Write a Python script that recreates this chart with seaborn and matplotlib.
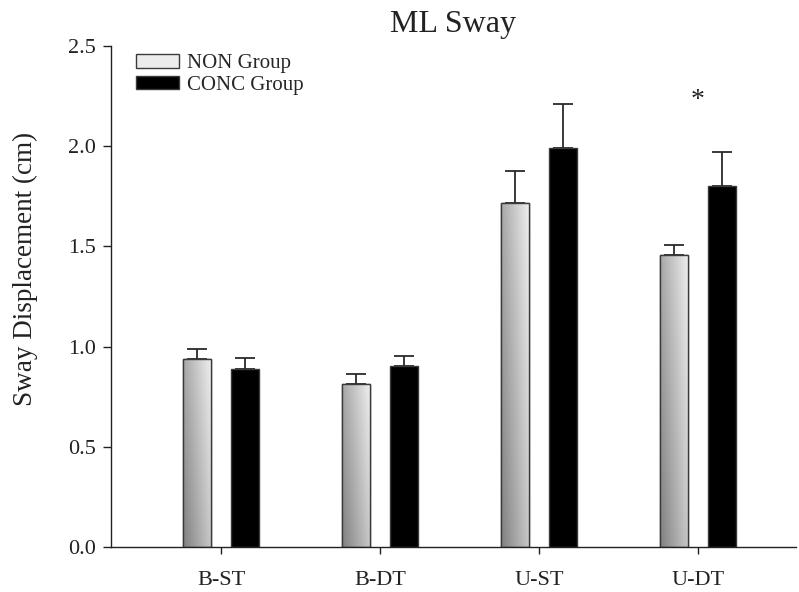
import numpy as np
import pandas as pd
import seaborn as sns
import matplotlib
matplotlib.use("Agg")
import matplotlib.pyplot as plt

# values
conditions = ["B-ST", "B-DT", "U-ST", "U-DT"]
groups = ["NON Group", "CONC Group"]
non_mean = [0.94, 0.815, 1.715, 1.455]
non_sem = [0.047, 0.05, 0.16, 0.05]
conc_mean = [0.887, 0.905, 1.99, 1.80]
conc_sem = [0.055, 0.05, 0.22, 0.17]
star_condition = "U-DT"

df = pd.DataFrame({
    "condition": conditions * 2,
    "group": [groups[0]] * 4 + [groups[1]] * 4,
    "sway": non_mean + conc_mean,
})
errs = {groups[0]: non_sem, groups[1]: conc_sem}

sns.set_theme(style="ticks")
plt.rcParams["font.family"] = ["Liberation Serif", "DejaVu Serif"]

fig = plt.figure(figsize=(7.99, 5.92), dpi=100)
ax = fig.add_axes([0.1389, 0.076, 0.8573, 0.8463])

sns.barplot(data=df, x="condition", y="sway", hue="group", order=conditions,
            hue_order=groups, palette=["#ececec", "black"], width=0.6, gap=0.4,
            edgecolor="#3a3a3a", linewidth=1.0, errorbar=None, ax=ax, zorder=2)

# one-sided error bars, lower cap hidden behind the bar
for cont, g in zip(ax.containers, groups):
    xs = [p.get_x() + p.get_width() / 2 for p in cont.patches]
    hs = [p.get_height() for p in cont.patches]
    ax.errorbar(xs, hs, yerr=[np.zeros(4), errs[g]], fmt="none",
                ecolor="#2a2a2a", elinewidth=1.3, capsize=7.5, capthick=1.3,
                zorder=1)

# gradient fill for the NON bars
grad_x = np.linspace(0, 1, 64)[None, :]
grad_y = np.linspace(0, 1, 256)[:, None]
grad = 0.50 + 0.44 * (0.65 * grad_x + 0.35 * grad_y)
for p in ax.containers[0].patches:
    x0, w, h = p.get_x(), p.get_width(), p.get_height()
    im = ax.imshow(grad, cmap="gray", vmin=0, vmax=1, origin="lower",
                   extent=[x0, x0 + w, 0, h], aspect="auto", zorder=2.1,
                   interpolation="bilinear")
    im.set_clip_path(p)
    edge = plt.Rectangle((x0, 0), w, h, fill=False, edgecolor="#3a3a3a",
                         linewidth=1.0, zorder=2.2)
    ax.add_patch(edge)

ax.set_xlim(-0.692, 3.616)
ax.set_ylim(0, 2.5)
ax.set_yticks([0, 0.5, 1.0, 1.5, 2.0, 2.5])
ax.yaxis.set_major_formatter(matplotlib.ticker.FormatStrFormatter("%.1f"))
ax.tick_params(axis="both", labelsize=16, width=1, colors="#222222")
ax.tick_params(axis="y", length=6, pad=5)
ax.tick_params(axis="x", length=5, pad=12)
sns.despine(ax=ax)
for s in ["left", "bottom"]:
    ax.spines[s].set_color("#222222")
    ax.spines[s].set_linewidth(1.0)

ax.set_xlabel("")
ax.set_ylabel("Sway Displacement (cm)", fontsize=19.5, color="#222222")
ax.yaxis.set_label_coords(-0.106, 0.555)
ax.set_title("ML Sway", fontsize=23, color="#222222", pad=10)

star_x = conditions.index(star_condition)
ax.text(star_x, 2.23, "*", ha="center", va="center", fontsize=20, color="#222222")

leg = ax.legend(loc="upper left", bbox_to_anchor=(0.0365, 0.984), frameon=False,
                fontsize=15, handlelength=2.07, handleheight=0.62,
                handletextpad=0.38, labelspacing=0.13, borderaxespad=0,
                borderpad=0)
leg.get_patches()[0].set_edgecolor("#3a3a3a")

fig.savefig("out.png", dpi=100)
